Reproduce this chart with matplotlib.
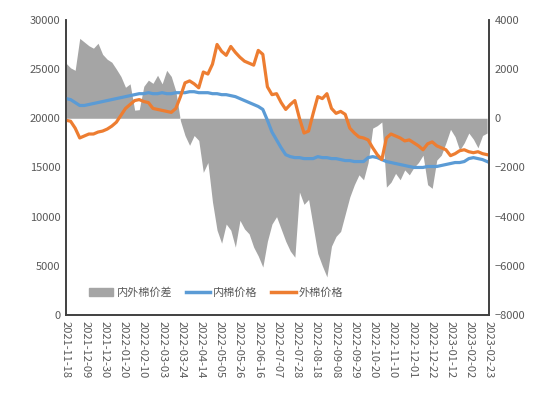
import matplotlib
matplotlib.use("Agg")
import matplotlib.pyplot as plt
import matplotlib.dates as mdates
from matplotlib.patches import Patch
from matplotlib.lines import Line2D
import pandas as pd

plt.rcParams['font.family'] = ['Noto Sans CJK SC', 'DejaVu Sans']

# one sample every 5 days
dates = pd.date_range('2021-11-18', periods=93, freq='5D')

# 内棉价格 (left axis)
inner = [22000, 21900, 21600, 21300, 21300, 21400, 21500, 21600, 21700, 21800,
         21900, 22000, 22100, 22200, 22300, 22400, 22500, 22500, 22600, 22500,
         22500, 22600, 22500, 22500, 22600, 22600, 22600, 22700, 22700, 22600,
         22600, 22600, 22500, 22500, 22400, 22400, 22300, 22200, 22000, 21800,
         21600, 21400, 21200, 20900, 19800, 18600, 17800, 17000, 16300, 16100,
         16000, 16000, 15900, 15900, 15900, 16100, 16000, 16000, 15900, 15900,
         15800, 15700, 15700, 15600, 15600, 15600, 16000, 16100, 16000, 15800,
         15600, 15500, 15400, 15300, 15200, 15100, 15000, 15000, 15000, 15100,
         15100, 15100, 15200, 15300, 15400, 15500, 15500, 15600, 15900, 16000,
         15900, 15800, 15600]

# 外棉价格 (left axis)
outer = [19800, 19700, 19000, 18000, 18200, 18400, 18400, 18600, 18700, 18900,
         19200, 19600, 20300, 21000, 21400, 21800, 21900, 21700, 21600, 21000,
         20900, 20800, 20700, 20600, 21000, 22200, 23600, 23800, 23500, 23100,
         24700, 24500, 25500, 27500, 26800, 26400, 27300, 26700, 26200, 25800,
         25600, 25400, 26900, 26500, 23200, 22400, 22500, 21600, 20900, 21400,
         21800, 20000, 18500, 18700, 20500, 22200, 22000, 22500, 21000, 20500,
         20700, 20400, 19000, 18500, 18100, 18000, 17800, 17000, 16300, 15800,
         18000, 18400, 18200, 18000, 17700, 17800, 17500, 17200, 16800, 17400,
         17600, 17200, 17000, 16800, 16200, 16400, 16700, 16800, 16600, 16500,
         16600, 16400, 16300]

# 内外棉价差 (right axis)
spread = [2240, 2050, 1950, 3250, 3100, 2950, 2850, 3050, 2600, 2400,
          2280, 2000, 1700, 1260, 1400, 330, 350, 1300, 1550, 1420,
          1750, 1400, 1950, 1700, 1100, -100, -700, -1100, -700, -900,
          -2200, -1800, -3400, -4550, -5080, -4300, -4550, -5240, -4150, -4500,
          -4700, -5240, -5600, -6050, -5000, -4300, -4000, -4500, -5000, -5400,
          -5650, -3000, -3500, -3300, -4400, -5500, -6000, -6450, -5200, -4800,
          -4600, -3900, -3200, -2700, -2300, -2500, -1800, -400, -300, -150,
          -2800, -2600, -2240, -2500, -2100, -2300, -2000, -1800, -1500, -2700,
          -2850, -1700, -1500, -1000, -450, -750, -1300, -1000, -600, -850,
          -1200, -700, -600]

tick_dates = pd.date_range('2021-11-18', '2023-02-23', freq='21D')

grey = '#a5a5a5'
blue = '#5b9bd5'
orange = '#ed7d31'
txt = '#595959'

fig = plt.figure(figsize=(5.5, 3.98), dpi=100)
ax = fig.add_axes([0.12, 0.2085, 0.769, 0.7415])
ax2 = ax.twinx()

# grey area on the right axis, kept behind the lines
ax2.fill_between(dates, 0, spread, color=grey, linewidth=0)
ax2.set_ylim(-8000, 4000)
ax2.set_yticks(range(-8000, 4001, 2000))

ax.plot(dates, inner, color=blue, lw=2.3)
ax.plot(dates, outer, color=orange, lw=2.3)
ax.set_ylim(0, 30000)
ax.set_yticks(range(0, 30001, 5000))
ax.set_zorder(ax2.get_zorder() + 1)
ax.patch.set_visible(False)

ax.set_xlim(pd.Timestamp('2021-11-18'), pd.Timestamp('2023-02-23'))
ax.set_xticks(tick_dates)
ax.xaxis.set_major_formatter(mdates.DateFormatter('%Y-%m-%d'))
for lab in ax.get_xticklabels():
    lab.set_rotation(-90)

for a in (ax, ax2):
    a.tick_params(length=0, labelsize=8, colors=txt, pad=4)
    a.spines['top'].set_visible(False)
    for s in ('left', 'right', 'bottom'):
        a.spines[s].set_color('#404040')
        a.spines[s].set_linewidth(1.2)

handles = [Patch(color=grey, label='内外棉价差'),
           Line2D([], [], color=blue, lw=2.5, label='内棉价格'),
           Line2D([], [], color=orange, lw=2.5, label='外棉价格')]
ax.legend(handles=handles, loc='lower center', bbox_to_anchor=(0.355, 0.025),
          ncol=3, frameon=False, fontsize=8, labelcolor=txt,
          handlelength=2.2, handletextpad=0.3, columnspacing=1.2)

fig.savefig('out.png', dpi=100)
